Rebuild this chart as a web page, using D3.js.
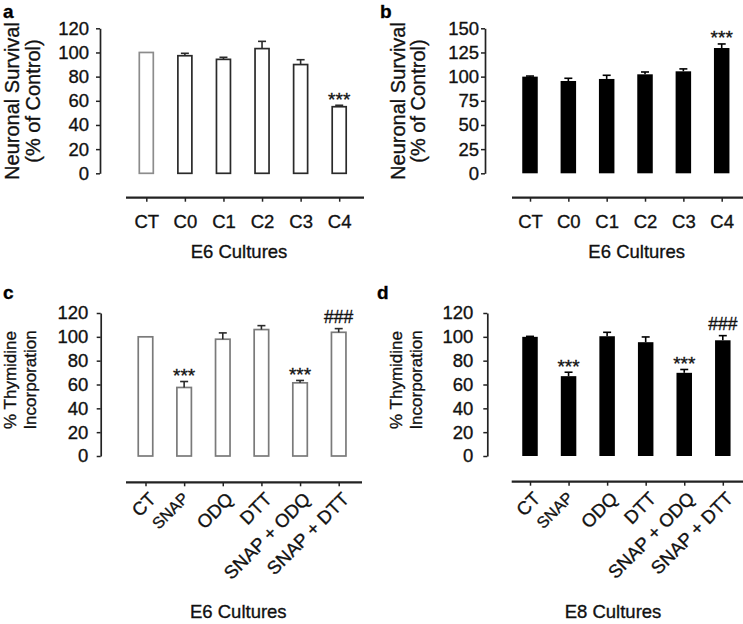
<!DOCTYPE html>
<html>
<head>
<meta charset="utf-8">
<script src="https://cdn.jsdelivr.net/npm/d3@7"></script>
<style>
  html, body { margin: 0; padding: 0; background: #fff; }
  svg { display: block; font-family: "Liberation Sans", Arial, sans-serif; }
  svg text { stroke: #222; stroke-width: 0.35px; paint-order: stroke; }
</style>
</head>
<body>
<svg id="chart" width="743" height="624"></svg>
<script>
// ---------- data ----------
const catsAB = ["CT", "C0", "C1", "C2", "C3", "C4"];
const valsA = [100, 97.3, 94.3, 103.2, 90, 55.1];
const errA  = [0, 2, 1.7, 6, 4, 1.2];
const sigA  = ["", "", "", "", "", "***"];
const valsB = [100, 95.5, 97.6, 102.4, 105.5, 129.6];
const errB  = [0.6, 2.8, 3.8, 2.4, 2.5, 4.2];
const sigB  = ["", "", "", "", "", "***"];

const catsCD = ["CT", "SNAP", "ODQ", "DTT", "SNAP + ODQ", "SNAP + DTT"];
const valsC = [100, 57.5, 98, 106.1, 61.4, 103.8];
const errC  = [0, 5, 5.3, 3.3, 2, 3.1];
const sigC  = ["", "***", "", "", "***", "###"];
const valsD = [100, 67, 100.5, 95.5, 69.8, 97.1];
const errD  = [0.4, 3.3, 3.3, 4.4, 2.8, 3.9];
const sigD  = ["", "***", "", "", "***", "###"];

const ticksA = [0, 20, 40, 60, 80, 100, 120];
const ticksB = [0, 25, 50, 75, 100, 125, 150];
const ticksCD = [0, 20, 40, 60, 80, 100, 120];

const titleSurvival = ["Neuronal Survival", "(% of Control)"];
const titleThymidine = ["% Thymidine", "Incorporation"];

// ---------- layout ----------
const FONT = '"Liberation Sans", Arial, sans-serif';
const AX = "#222";

const panels = [
  { label: "a", labelPos: [3, 18], cats: catsAB, vals: valsA, errs: errA, sig: sigA, ticks: ticksA,
    axisX: 100, y0: 173.3, yTop: 28.3, c0: 146.3, c1: 339.2, xLine: [126, 364], xLineY: 197.7,
    barW: 14, fill: "#fff", stroke: i => i === 0 ? "#8c8c8c" : "#2a2a2a", strokeW: 1.7,
    rotate: false, tickPadX: 13.5, tickPadY: 7,
    xTitle: "E6 Cultures", xTitlePos: [239, 258],
    yTitle: titleSurvival, yTitleX: [19, 39.5], yTitleY: 101, yTitleSize: 20 },
  { label: "b", labelPos: [380, 18], cats: catsAB, vals: valsB, errs: errB, sig: sigB, ticks: ticksB,
    axisX: 485, y0: 173.3, yTop: 28.3, c0: 530, c1: 721.7, xLine: [512, 743], xLineY: 197.7,
    barW: 15.5, fill: "#000", stroke: () => "#000", strokeW: 0,
    rotate: false, tickPadX: 13.5, tickPadY: 2,
    xTitle: "E6 Cultures", xTitlePos: [636.7, 258],
    yTitle: titleSurvival, yTitleX: [405, 425], yTitleY: 101, yTitleSize: 20 },
  { label: "c", labelPos: [3, 299], cats: catsCD, vals: valsC, errs: errC, sig: sigC, ticks: ticksCD,
    axisX: 100.7, y0: 456, yTop: 313, c0: 145.5, c1: 338.7, xLine: [126, 362], xLineY: 482.3,
    barW: 14.5, fill: "#fff", stroke: () => "#7a7a7a", strokeW: 1.7,
    rotate: true,  tickPadY: 8.4,
    xTitle: "E6 Cultures", xTitlePos: [238.3, 618],
    yTitle: titleThymidine, yTitleX: [16, 36], yTitleY: 380, yTitleSize: 17 },
  { label: "d", labelPos: [377, 299], cats: catsCD, vals: valsD, errs: errD, sig: sigD, ticks: ticksCD,
    axisX: 487.3, y0: 456, yTop: 313, c0: 530, c1: 722.8, xLine: [511.7, 743], xLineY: 481.7,
    barW: 15.5, fill: "#000", stroke: () => "#000", strokeW: 0,
    rotate: true, tickPadY: 10,
    xTitle: "E8 Cultures", xTitlePos: [613, 618],
    yTitle: titleThymidine, yTitleX: [401.5, 421.5], yTitleY: 380, yTitleSize: 17 }
];

const svg = d3.select("#chart");

panels.forEach(p => {
  const g = svg.append("g");
  const yMax = p.ticks[p.ticks.length - 1];
  const y = d3.scaleLinear().domain([0, yMax]).range([p.y0, p.yTop]);
  const x = d3.scalePoint().domain(p.cats).range([p.c0, p.c1]);

  // panel letter
  g.append("text").attr("x", p.labelPos[0]).attr("y", p.labelPos[1])
    .attr("font-size", 19).attr("font-weight", "bold").attr("fill", "#000").text(p.label);

  // y axis
  const yAxis = d3.axisLeft(y).tickValues(p.ticks).tickSize(4).tickSizeOuter(0).tickPadding(p.tickPadY);
  const ya = g.append("g").attr("transform", `translate(${p.axisX},0)`).call(yAxis);
  ya.select(".domain").attr("stroke", AX).attr("stroke-width", 1.7);
  ya.selectAll(".tick line").attr("stroke", AX).attr("stroke-width", 1.5);
  ya.selectAll(".tick text").attr("font-size", 18.5).attr("font-family", FONT).attr("fill", "#111");

  // y title
  p.yTitle.forEach((t, i) => {
    g.append("text")
      .attr("transform", `translate(${p.yTitleX[i]},${p.yTitleY}) rotate(-90)`)
      .attr("text-anchor", "middle").attr("font-size", p.yTitleSize).attr("fill", "#111").text(t);
  });

  // bars
  g.selectAll("rect.bar").data(p.cats).enter().append("rect")
    .attr("class", "bar")
    .attr("x", d => x(d) - p.barW / 2)
    .attr("width", p.barW)
    .attr("y", (d, i) => y(p.vals[i]))
    .attr("height", (d, i) => y(0) - y(p.vals[i]))
    .attr("fill", p.fill)
    .attr("stroke", (d, i) => p.stroke(i))
    .attr("stroke-width", p.strokeW);

  // error bars (upper only)
  p.cats.forEach((c, i) => {
    if (!p.errs[i]) return;
    const cx = x(c), top = y(p.vals[i] + p.errs[i]), base = y(p.vals[i]);
    const col = p.fill === "#000" ? "#000" : "#2a2a2a";
    g.append("line").attr("x1", cx).attr("x2", cx).attr("y1", base).attr("y2", top)
      .attr("stroke", col).attr("stroke-width", 1.6);
    g.append("line").attr("x1", cx - 4).attr("x2", cx + 4).attr("y1", top).attr("y2", top)
      .attr("stroke", col).attr("stroke-width", 1.6);
  });

  // significance marks
  p.cats.forEach((c, i) => {
    if (!p.sig[i]) return;
    const top = y(p.vals[i] + p.errs[i]);
    const isHash = p.sig[i].startsWith("#");
    g.append("text").attr("x", x(c)).attr("y", isHash ? top - 6 : top + 0.5)
      .attr("text-anchor", "middle").attr("font-size", isHash ? 17.5 : 19)
      .attr("fill", "#111").text(p.sig[i]);
  });

  // x axis
  const xAxis = d3.axisBottom(x).tickSize(4).tickSizeOuter(0);
  const xa = g.append("g").attr("transform", `translate(0,${p.xLineY})`).call(xAxis);
  xa.select(".domain").remove();
  xa.selectAll(".tick line").attr("stroke", AX).attr("stroke-width", 1.5);
  g.append("line").attr("x1", p.xLine[0]).attr("x2", p.xLine[1])
    .attr("y1", p.xLineY).attr("y2", p.xLineY).attr("stroke", AX).attr("stroke-width", 2.2);

  const tt = xa.selectAll(".tick text").attr("font-family", FONT).attr("fill", "#111");
  if (!p.rotate) {
    tt.attr("font-size", 18.5).attr("y", 4 + p.tickPadX);
  } else {
    tt.attr("font-size", d => d === "SNAP" ? 16 : 18.5)
      .attr("text-anchor", "end")
      .attr("x", 0).attr("y", 0).attr("dy", "0")
      .attr("transform", d => d === "SNAP" ? "translate(5,17) rotate(-45)" : "translate(11,18) rotate(-45)");
  }

  // x title
  g.append("text").attr("x", p.xTitlePos[0]).attr("y", p.xTitlePos[1])
    .attr("text-anchor", "middle").attr("font-size", 18.5).attr("fill", "#111").text(p.xTitle);
});
</script>
</body>
</html>
